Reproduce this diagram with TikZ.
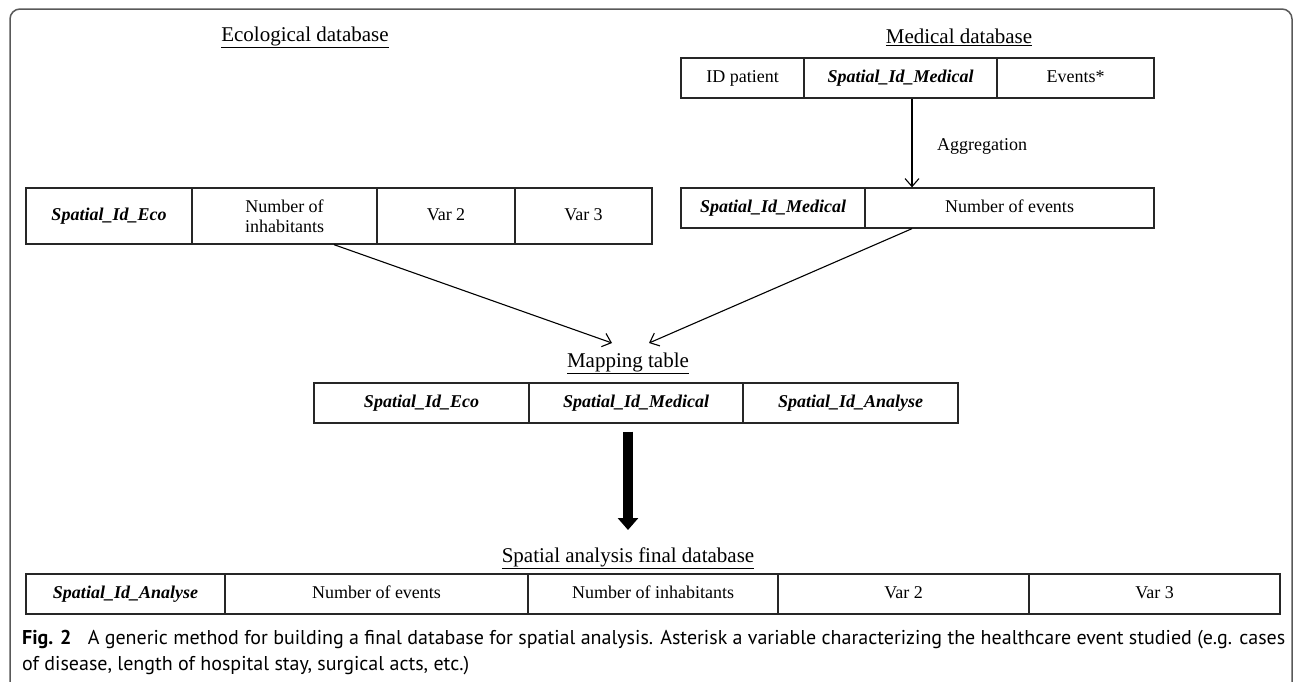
\documentclass[tikz,border=0pt]{standalone}
\usepackage{fontspec}
\setmainfont{Liberation Serif}
\setsansfont{PT Sans}
\usetikzlibrary{arrows.meta}

\begin{document}
\begin{tikzpicture}[x=1pt,y=-1pt,
	cell/.style={draw=black!85,line width=1.3pt,minimum height=40pt,inner sep=0pt,align=center,text height=12.5pt,text depth=4pt,font=\fontsize{18}{19}\selectfont},
	idcell/.style={cell,font=\fontsize{18}{19}\selectfont\bfseries\itshape},
	ttl/.style={inner sep=0pt,font=\fontsize{21}{24}\selectfont},
	thin/.style={line width=1.1pt,-{Straight Barb[length=8pt,width=14pt]}},
	capline/.style={anchor=base west,inner sep=0pt,font=\sffamily\fontsize{20}{24}\selectfont}]
	\useasboundingbox (0,0) rectangle (1295,681);
	\draw[black!65,line width=1.5pt,rounded corners=10pt] (10,9) rectangle (1292,700);
	\node[ttl] (ecot) at (305,37) {\underline{Ecological database}};
	\node[ttl] (medt) at (959,37) {\underline{Medical database}};
	\node[ttl] (mapt) at (628,363) {\underline{Mapping table}};
	\node[ttl] (fint) at (628,558) {\underline{Spatial analysis final database}};
	\node[idcell,minimum width=166pt,minimum height=56pt] (eco1) at (109,216) {Spatial\_Id\_Eco};
	\node[cell,minimum width=185pt,minimum height=56pt,text height=,text depth=,font=\fontsize{18}{20}\selectfont] (eco2) at (284.5,216) {Number of\\inhabitants};
	\node[cell,minimum width=138pt,minimum height=56pt] (eco3) at (446,216) {Var 2};
	\node[cell,minimum width=137pt,minimum height=56pt] (eco4) at (583.5,216) {Var 3};
	\node[cell,minimum width=123pt] (med1a) at (742.5,78) {ID patient};
	\node[idcell,minimum width=193pt] (med1b) at (900.5,78) {Spatial\_Id\_Medical};
	\node[cell,minimum width=157pt] (med1c) at (1075.5,78) {Events*};
	\node[idcell,minimum width=184pt] (med2a) at (773,208) {Spatial\_Id\_Medical};
	\node[cell,minimum width=289pt] (med2b) at (1009.5,208) {Number of events};
	\node[idcell,minimum width=215pt] (map1) at (421.5,403) {Spatial\_Id\_Eco};
	\node[idcell,minimum width=214pt] (map2) at (636,403) {Spatial\_Id\_Medical};
	\node[idcell,minimum width=215pt] (map3) at (850.5,403) {Spatial\_Id\_Analyse};
	\node[idcell,minimum width=199pt] (fin1) at (125.5,594) {Spatial\_Id\_Analyse};
	\node[cell,minimum width=303pt] (fin2) at (376.5,594) {Number of events};
	\node[cell,minimum width=250pt] (fin3) at (653,594) {Number of inhabitants};
	\node[cell,minimum width=251pt] (fin4) at (903.5,594) {Var 2};
	\node[cell,minimum width=251pt] (fin5) at (1154.5,594) {Var 3};
	\node[anchor=west,inner sep=0pt,font=\fontsize{18}{20}\selectfont] (aggr) at (937,146) {Aggregation};
	\coordinate (tipl) at (612,343);
	\coordinate (tipr) at (649,343);
	\coordinate (bigtip) at (628,530);
	\draw[thin] ([xshift=11.5pt]med1b.south) -- ([xshift=-97.5pt]med2b.north);
	\draw[thin] ([xshift=49.5pt]eco2.south) -- (tipl);
	\draw[thin] ([xshift=-97.5pt]med2b.south) -- (tipr);
	\draw[line width=10pt,-{Triangle[length=12pt,width=20pt]}] ([xshift=-8pt,yshift=-8pt]map2.south) -- (bigtip);
	\node[capline] (cap1) at (22,644) {\textbf{Fig. 2}\hspace{0.55em} A generic method for building a final database for spatial analysis. Asterisk a variable characterizing the healthcare event studied (e.g. cases};
	\node[capline] (cap2) at (22,670) {of disease, length of hospital stay, surgical acts, etc.)};
\end{tikzpicture}
\end{document}
